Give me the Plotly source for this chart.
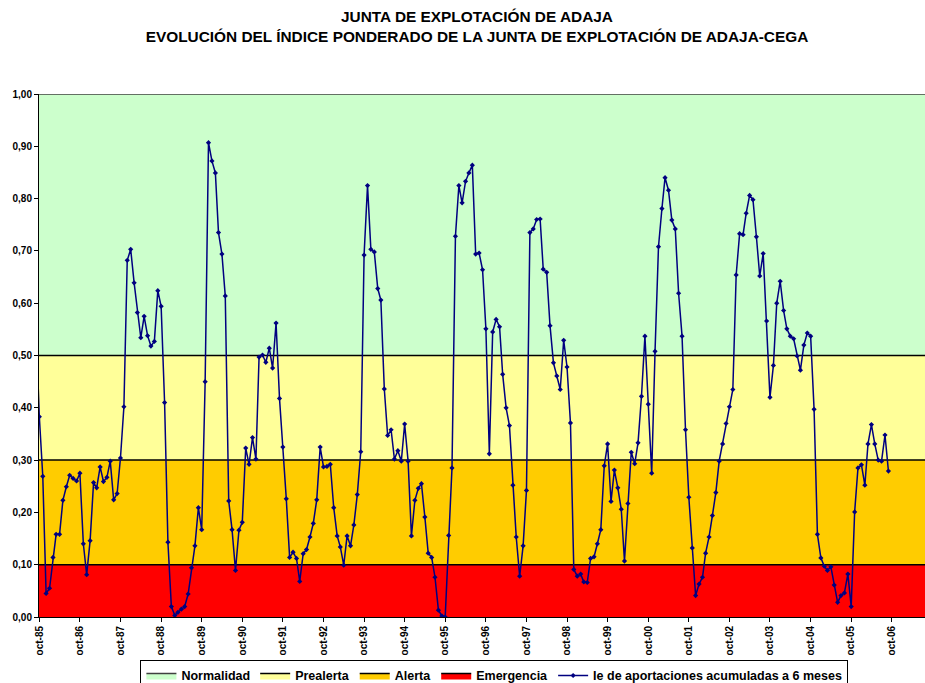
import pandas as pd
import plotly.graph_objects as go

# ---------------- DATA ----------------
# Monthly weighted index (hydrological years oct..sep)
lead_in_sep85 = [0.55]
y_1985_86 = [0.383, 0.269, 0.045, 0.055, 0.114, 0.158, 0.158, 0.223, 0.249, 0.271, 0.265, 0.260]
y_1986_87 = [0.275, 0.140, 0.081, 0.146, 0.257, 0.247, 0.287, 0.259, 0.267, 0.298, 0.224, 0.236]
y_1987_88 = [0.304, 0.402, 0.682, 0.703, 0.639, 0.582, 0.534, 0.575, 0.538, 0.518, 0.527, 0.624]
y_1988_89 = [0.594, 0.410, 0.143, 0.020, 0.003, 0.009, 0.015, 0.020, 0.044, 0.094, 0.136, 0.209]
y_1989_90 = [0.167, 0.450, 0.907, 0.872, 0.849, 0.735, 0.694, 0.614, 0.222, 0.167, 0.089, 0.166]
y_1990_91 = [0.181, 0.323, 0.292, 0.343, 0.302, 0.497, 0.501, 0.487, 0.514, 0.476, 0.562, 0.418]
y_1991_92 = [0.325, 0.226, 0.114, 0.124, 0.112, 0.068, 0.121, 0.129, 0.153, 0.179, 0.224, 0.325]
y_1992_93 = [0.287, 0.288, 0.292, 0.209, 0.155, 0.134, 0.099, 0.155, 0.136, 0.176, 0.234, 0.316]
y_1993_94 = [0.692, 0.825, 0.703, 0.698, 0.628, 0.606, 0.436, 0.347, 0.358, 0.302, 0.318, 0.298]
y_1994_95 = [0.369, 0.298, 0.155, 0.223, 0.246, 0.255, 0.191, 0.122, 0.114, 0.076, 0.013, 0.002]
y_1995_96 = [0.000, 0.156, 0.285, 0.728, 0.825, 0.792, 0.833, 0.849, 0.864, 0.694, 0.696, 0.664]
y_1996_97 = [0.551, 0.312, 0.545, 0.569, 0.555, 0.464, 0.400, 0.366, 0.252, 0.153, 0.078, 0.136]
y_1997_98 = [0.242, 0.735, 0.742, 0.760, 0.761, 0.665, 0.659, 0.557, 0.486, 0.461, 0.435, 0.529]
y_1998_99 = [0.478, 0.371, 0.091, 0.078, 0.082, 0.067, 0.066, 0.112, 0.115, 0.140, 0.167, 0.289]
y_1999_00 = [0.331, 0.221, 0.281, 0.247, 0.206, 0.107, 0.217, 0.315, 0.293, 0.333, 0.422, 0.537]
y_2000_01 = [0.407, 0.275, 0.508, 0.708, 0.781, 0.840, 0.816, 0.759, 0.742, 0.619, 0.537, 0.358]
y_2001_02 = [0.229, 0.132, 0.041, 0.063, 0.076, 0.122, 0.153, 0.194, 0.238, 0.298, 0.331, 0.370]
y_2002_03 = [0.402, 0.435, 0.654, 0.733, 0.731, 0.772, 0.806, 0.798, 0.727, 0.652, 0.695, 0.566]
y_2003_04 = [0.420, 0.481, 0.600, 0.642, 0.586, 0.551, 0.537, 0.532, 0.499, 0.472, 0.520, 0.543]
y_2004_05 = [0.537, 0.397, 0.158, 0.113, 0.097, 0.089, 0.096, 0.061, 0.028, 0.041, 0.046, 0.082]
y_2005_06 = [0.020, 0.201, 0.285, 0.291, 0.252, 0.331, 0.368, 0.331, 0.300, 0.298, 0.348, 0.279]

years = [y_1985_86, y_1986_87, y_1987_88, y_1988_89, y_1989_90, y_1990_91, y_1991_92,
         y_1992_93, y_1993_94, y_1994_95, y_1995_96, y_1996_97, y_1997_98, y_1998_99,
         y_1999_00, y_2000_01, y_2001_02, y_2002_03, y_2003_04, y_2004_05, y_2005_06]
values = lead_in_sep85 + [v for yr in years for v in yr]
months = pd.date_range("1985-09-01", periods=len(values), freq="MS")

# threshold bands (upper limits)
band_names = ["Emergencia", "Alerta", "Prealerta", "Normalidad"]
band_tops = [0.10, 0.30, 0.50, 1.00]
band_colors = ["#FF0000", "#FFCC00", "#FFFF99", "#CCFFCC"]
band_line_colors = ["#000000", "#000000", "#000000", "#404040"]
band_rank = [4, 3, 2, 1]

tick_dates = ["1985-10-01", "1986-10-01", "1987-10-01", "1988-10-01", "1989-10-01", "1990-10-01",
              "1991-10-01", "1992-10-01", "1993-10-01", "1994-10-01", "1995-10-01", "1996-10-01",
              "1997-10-01", "1998-10-01", "1999-10-01", "2000-10-01", "2001-10-01", "2002-10-01",
              "2003-10-01", "2004-10-01", "2005-10-01", "2006-10-01"]
tick_labels = ["oct-85", "oct-86", "oct-87", "oct-88", "oct-89", "oct-90", "oct-91", "oct-92",
               "oct-93", "oct-94", "oct-95", "oct-96", "oct-97", "oct-98", "oct-99", "oct-00",
               "oct-01", "oct-02", "oct-03", "oct-04", "oct-05", "oct-06"]

series_name = "Ie de aportaciones acumuladas a 6 meses"
title_text = ("JUNTA DE EXPLOTACIÓN DE ADAJA<br>"
              "EVOLUCIÓN DEL ÍNDICE PONDERADO DE LA JUNTA DE EXPLOTACIÓN DE ADAJA-CEGA")

# ---------------- FIGURE ----------------
FONT = "Arial, 'Liberation Sans', sans-serif"
x_start = pd.Timestamp("1985-09-28")
x_end = x_start + pd.Timedelta(days=7972)

fig = go.Figure()
for i, (name, top, col, lcol, rk) in enumerate(zip(band_names, band_tops, band_colors,
                                                    band_line_colors, band_rank)):
    fig.add_trace(go.Scatter(
        x=[x_start - pd.Timedelta(days=60), x_end + pd.Timedelta(days=60)],
        y=[top, top], mode="lines", name=name,
        fill="tozeroy" if i == 0 else "tonexty", fillcolor=col,
        line=dict(color=lcol, width=1.5), legendrank=rk, hoverinfo="skip"))

fig.add_trace(go.Scatter(
    x=months, y=values, mode="lines+markers", name=series_name,
    line=dict(color="#000080", width=1.5),
    marker=dict(symbol="diamond", size=4, color="#000080"),
    legendrank=5))

fig.update_layout(
    width=925, height=683,
    margin=dict(l=39, r=0, t=94, b=66, autoexpand=False),
    paper_bgcolor="white", plot_bgcolor="white",
    separators=",.",
    font=dict(family=FONT, color="black"),
    title=dict(text=title_text, xref="container", x=477 / 925, xanchor="center",
               yref="container", y=1 - 22 / 683, yanchor="top",
               font=dict(family=FONT, size=15.4, color="black", weight="bold")),
    legend=dict(orientation="h", x=0.514, xanchor="center", y=-0.082, yanchor="top",
                bgcolor="white", bordercolor="black", borderwidth=1,
                font=dict(family=FONT, size=12.5, color="black", weight="bold"),
                itemwidth=30, traceorder="normal"),
    showlegend=True,
)
fig.update_xaxes(type="date", range=[x_start, x_end], tickvals=tick_dates, ticktext=tick_labels,
                 tickangle=-90, ticks="outside", ticklen=4, tickcolor="black",
                 showline=True, linecolor="black", linewidth=1, showgrid=False, zeroline=False,
                 tickfont=dict(family=FONT, size=10, color="black", weight="bold"))
fig.update_yaxes(range=[0, 1], dtick=0.1, tickformat=".2f", ticks="outside", ticklen=4,
                 tickcolor="black", showline=True, linecolor="black", linewidth=1,
                 showgrid=False, zeroline=False,
                 tickfont=dict(family=FONT, size=10, color="black", weight="bold"))

fig.write_html("out.html", config={"displayModeBar": False},
               post_script="document.body.style.margin='0px';"
                           "document.body.style.overflow='hidden';")
